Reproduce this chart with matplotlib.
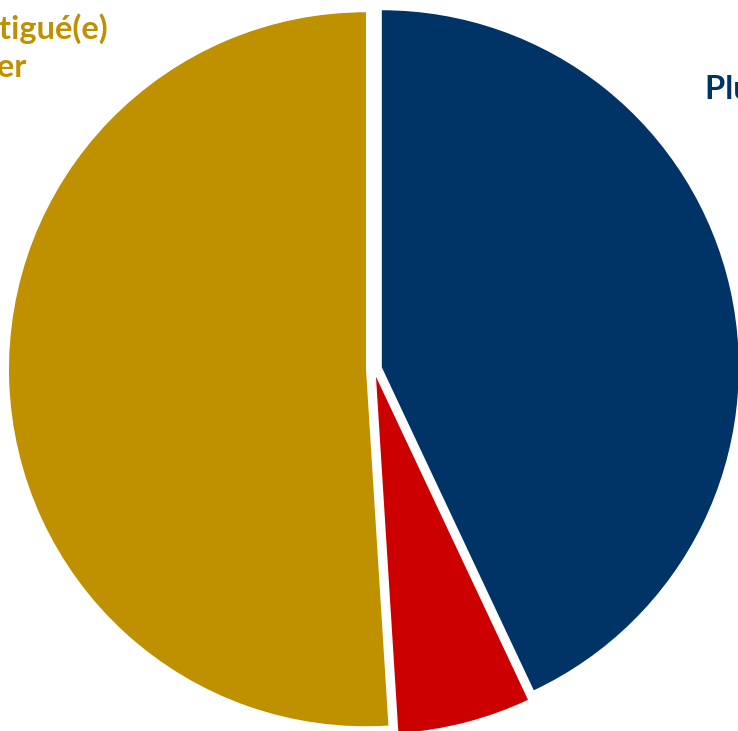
import numpy as np
import matplotlib.pyplot as plt

# data
labels = ["Plus fatigué(e)\nqu'hier", "Moins fatigué(e)\nqu'hier", "Pas plus fatigué(e)\nqu'hier"]
shares = [43, 6, 51]
colors = ["#003366", "#CC0000", "#BF9000"]

W, H = 738, 731
fig = plt.figure(figsize=(W / 100, H / 100), dpi=100)
ax = fig.add_axes([0, 0, 1, 1])

# explode is in data units here (pixels)
ax.pie(shares, colors=colors, startangle=90, counterclock=False,
       center=(374, H - 369), radius=357, explode=[8, 8, 8],
       wedgeprops=dict(linewidth=0))

ax.set_xlim(0, W)
ax.set_ylim(0, H)
ax.set_aspect("equal")
ax.axis("off")

# labels, mostly outside the visible area
lab_kw = dict(fontsize=23.5, fontweight="bold", family="Lato",
              ha="center", va="baseline", linespacing=1.36, multialignment="center")
t_blue = ax.text(0, H - 137, labels[0], color=colors[0], **lab_kw)
t_gold = ax.text(0, H - 77, labels[2], color=colors[2], **lab_kw)

fig.canvas.draw()
r = fig.canvas.get_renderer()
w_blue = t_blue.get_window_extent(r).width
w_gold = t_gold.get_window_extent(r).width
t_blue.set_x(705 + w_blue / 2)   # first line starts at x=705
t_gold.set_x(108 - w_gold / 2)   # first line ends at x=108

fig.savefig("out.png", dpi=100)
